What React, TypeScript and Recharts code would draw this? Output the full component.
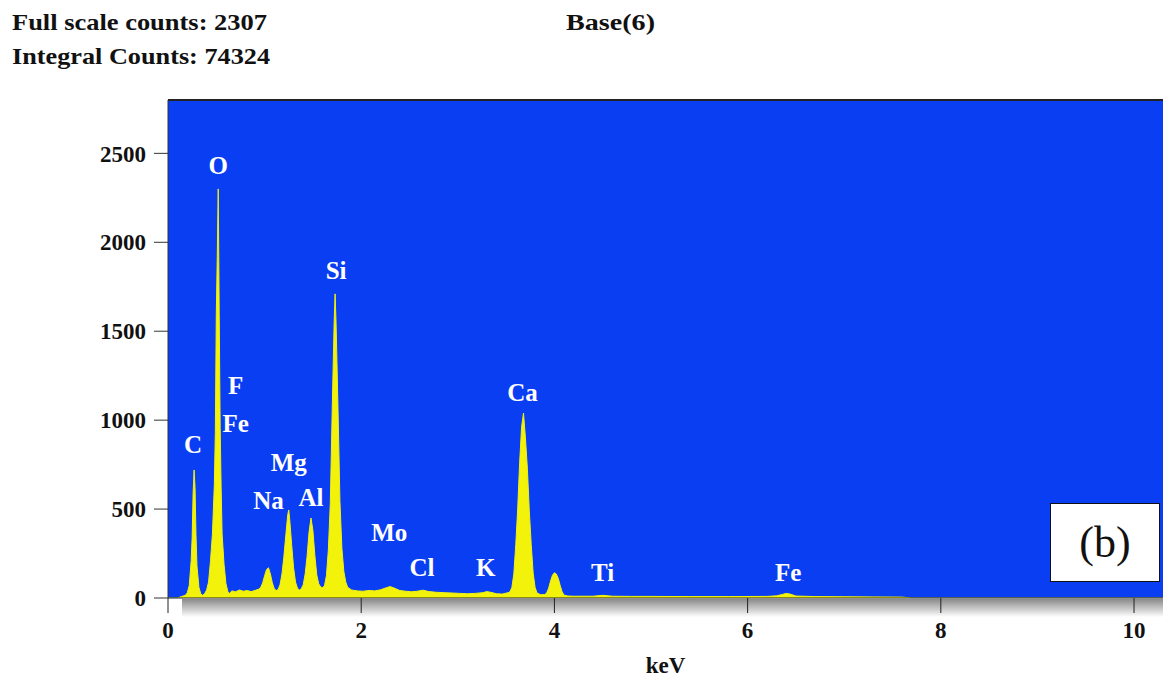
import { ComposedChart, Area, XAxis, YAxis, CartesianGrid, ReferenceDot, ReferenceLine } from 'recharts';

// spectrum, split by energy range (keV / counts)
const lowKeV = [0, 0.1, 0.14, 0.18, 0.2, 0.22, 0.24, 0.25, 0.26, 0.27, 0.28, 0.29, 0.3, 0.32, 0.34, 0.36, 0.38, 0.4, 0.42, 0.44, 0.46, 0.48, 0.49, 0.5, 0.51, 0.52, 0.53, 0.54, 0.55, 0.56, 0.58, 0.6, 0.62, 0.64];
const lowCounts = [0, 0, 8, 15, 30, 70, 210, 340, 590, 720, 620, 350, 180, 60, 22, 15, 25, 45, 90, 210, 360, 640, 930, 1600, 1920, 2300, 1600, 960, 620, 360, 190, 80, 35, 25];

const naMgAlKeV = [0.66, 0.7, 0.74, 0.78, 0.82, 0.86, 0.9, 0.94, 0.96, 0.98, 1.0, 1.02, 1.04, 1.06, 1.08, 1.1, 1.12, 1.14, 1.16, 1.18, 1.2, 1.22, 1.24, 1.25, 1.26, 1.28, 1.3, 1.32, 1.34, 1.36, 1.38, 1.4, 1.42, 1.44, 1.46, 1.48, 1.5, 1.52, 1.54, 1.56, 1.58, 1.6];
const naMgAlCounts = [40, 35, 45, 38, 42, 36, 42, 50, 60, 85, 125, 160, 170, 135, 85, 52, 42, 48, 75, 135, 235, 355, 470, 495, 440, 300, 170, 90, 55, 45, 52, 75, 135, 235, 370, 450, 380, 240, 130, 80, 62, 58];

const siKeV = [1.62, 1.64, 1.66, 1.68, 1.7, 1.72, 1.73, 1.74, 1.76, 1.78, 1.8, 1.82, 1.84, 1.86, 1.9, 1.96, 2.02, 2.08, 2.14, 2.2, 2.26, 2.3, 2.34, 2.4, 2.46, 2.52, 2.58, 2.64, 2.7, 2.78, 2.86, 2.94, 3.02, 3.1, 3.18, 3.26, 3.3, 3.34, 3.4, 3.46, 3.52];
const siCounts = [70, 125, 270, 530, 1060, 1550, 1710, 1540, 1060, 540, 280, 150, 90, 60, 45, 40, 38, 42, 40, 46, 58, 64, 56, 42, 38, 35, 38, 44, 36, 32, 30, 28, 26, 24, 26, 30, 36, 32, 24, 22, 30];

const caKeV = [3.54, 3.56, 3.58, 3.6, 3.62, 3.64, 3.66, 3.68, 3.7, 3.72, 3.74, 3.76, 3.78, 3.8, 3.82, 3.86, 3.9, 3.92, 3.94, 3.96, 3.98, 4.0, 4.02, 4.04, 4.06, 4.08, 4.1, 4.14];
const caCounts = [35, 60, 135, 300, 500, 760, 960, 1040, 900, 730, 490, 300, 140, 60, 28, 18, 20, 28, 55, 95, 128, 142, 135, 110, 70, 35, 16, 11];

const highKeV = [4.2, 4.4, 4.5, 4.6, 4.8, 5.0, 5.4, 5.8, 6.2, 6.3, 6.36, 6.4, 6.44, 6.5, 6.7, 7.0, 7.3, 7.6, 7.7, 10.3];
const highCounts = [10, 10, 15, 10, 9, 9, 8, 8, 9, 12, 20, 26, 22, 11, 8, 7, 6, 5, 0, 0];

const elementNames = ['O', 'F', 'Fe', 'C', 'Mg', 'Na', 'Al', 'Si', 'Mo', 'Cl', 'K', 'Ca', 'Ti', 'Fe'];
const elementKeV = [0.52, 0.7, 0.7, 0.26, 1.25, 1.04, 1.48, 1.74, 2.29, 2.63, 3.29, 3.67, 4.5, 6.42];
const elementLabelY = [2432, 1197, 983, 865, 764, 551, 567, 1843, 371, 169, 169, 1157, 146, 146];

const xTicks = [0, 2, 4, 6, 8, 10];
const yTicks = [0, 500, 1000, 1500, 2000, 2500];

const allKeV = [...lowKeV, ...naMgAlKeV, ...siKeV, ...caKeV, ...highKeV];
const allCounts = [...lowCounts, ...naMgAlCounts, ...siCounts, ...caCounts, ...highCounts];
const data = allKeV.map((keV, i) => ({ keV, counts: allCounts[i] }));

const serif = '"Liberation Serif", "Times New Roman", serif';
const BLUE = '#0a3ef2';
const YELLOW = '#f2f20a';

const tickStyle = { fill: '#111', fontSize: 23, fontWeight: 700, fontFamily: serif };

export default function App() {
  return (
    <div style={{ position: 'absolute', left: 0, top: 0, width: 1163, height: 683, background: '#fff' }}>
      <ComposedChart width={1163} height={683} data={data} margin={{ top: 100, right: 0, bottom: 0, left: 108 }}>
        <defs>
          <linearGradient id="axisShade" x1="0" y1="0" x2="0" y2="1">
            <stop offset="0%" stopColor="#8a8a8a" />
            <stop offset="100%" stopColor="#ffffff" />
          </linearGradient>
        </defs>
        <rect x={182} y={599} width={981} height={18} fill="url(#axisShade)" />
        <CartesianGrid horizontal={false} vertical={false} fill={BLUE} />
        <XAxis
          dataKey="keV"
          type="number"
          domain={[0, 10.3]}
          ticks={xTicks}
          allowDataOverflow
          height={85}
          tickSize={15}
          tickMargin={9}
          stroke="#222"
          tick={tickStyle}
          label={{ value: 'keV', position: 'insideBottom', offset: 10, fill: '#111', fontSize: 23, fontWeight: 700, fontFamily: serif }}
        />
        <YAxis
          type="number"
          domain={[0, 2800]}
          ticks={yTicks}
          allowDataOverflow
          width={60}
          tickSize={14}
          tickMargin={8}
          stroke="#333"
          tick={tickStyle}
        />
        <ReferenceLine y={2800} stroke="#222" strokeWidth={2} />
        <Area
          type="linear"
          dataKey="counts"
          stroke={YELLOW}
          strokeWidth={1}
          fill={YELLOW}
          fillOpacity={1}
          isAnimationActive={false}
          dot={false}
          activeDot={false}
        />
        {elementNames.map((name, i) => (
          <ReferenceDot
            key={name + i}
            x={elementKeV[i]}
            y={elementLabelY[i]}
            r={0}
            shape={(p: any) => (
              <text
                x={p.cx}
                y={p.cy}
                textAnchor="middle"
                dominantBaseline="central"
                fill="#fff"
                fontSize={25}
                fontWeight={700}
                fontFamily={serif}
              >
                {name}
              </text>
            )}
          />
        ))}
      </ComposedChart>
      <svg width={1163} height={100} style={{ position: 'absolute', left: 0, top: 0 }}>
        <text x={12} y={30} fontSize={23} fontWeight={700} fontFamily={serif} fill="#111" textLength={255} lengthAdjust="spacingAndGlyphs">
          Full scale counts: 2307
        </text>
        <text x={12} y={64} fontSize={23} fontWeight={700} fontFamily={serif} fill="#111" textLength={258} lengthAdjust="spacingAndGlyphs">
          Integral Counts: 74324
        </text>
        <text x={566} y={30} fontSize={23} fontWeight={700} fontFamily={serif} fill="#111" textLength={89} lengthAdjust="spacingAndGlyphs">
          Base(6)
        </text>
      </svg>
      <div
        style={{
          position: 'absolute',
          left: 1050,
          top: 503,
          width: 110,
          height: 79,
          background: '#fff',
          border: '1px solid #111',
          boxSizing: 'border-box',
          display: 'flex',
          alignItems: 'center',
          justifyContent: 'center',
          fontFamily: serif,
          fontSize: 44,
          color: '#111',
        }}
      >
        (b)
      </div>
    </div>
  );
}
